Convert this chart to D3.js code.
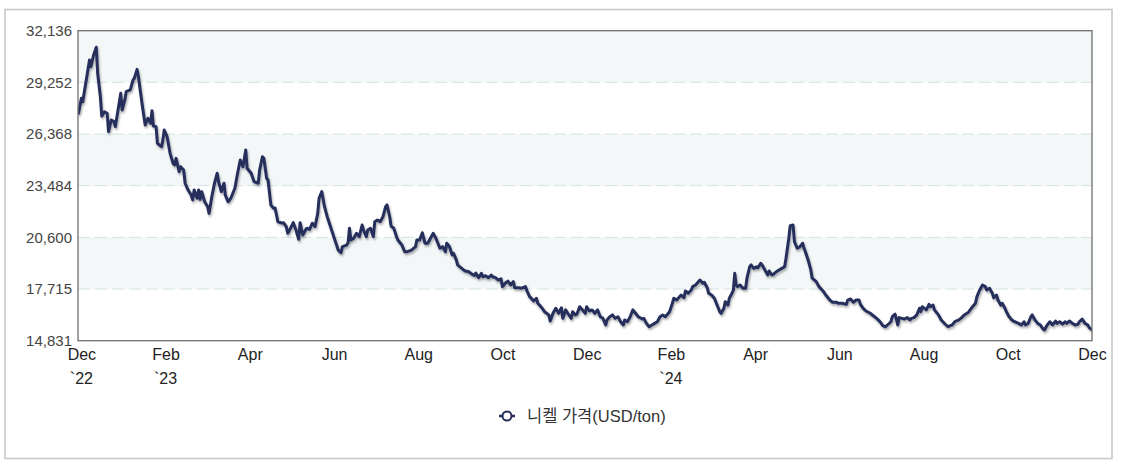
<!DOCTYPE html>
<html><head><meta charset="utf-8">
<script src="https://cdn.jsdelivr.net/npm/d3@7"></script>
<style>html,body{margin:0;padding:0;background:#fff}</style>
</head><body>
<svg id="chart" width="1122" height="468"></svg>
<script>
const dates = [
"2022-11-29","2022-12-01","2022-12-02","2022-12-05","2022-12-07","2022-12-08","2022-12-10","2022-12-12","2022-12-13","2022-12-15","2022-12-16","2022-12-18","2022-12-20","2022-12-21","2022-12-23","2022-12-25","2022-12-26","2022-12-28","2022-12-30","2022-12-31",
"2023-01-02","2023-01-03","2023-01-06","2023-01-08","2023-01-09","2023-01-11","2023-01-12","2023-01-13","2023-01-15","2023-01-17","2023-01-19","2023-01-21","2023-01-22","2023-01-23","2023-01-25","2023-01-26","2023-01-29","2023-01-30","2023-01-31",
"2023-02-02","2023-02-04","2023-02-06","2023-02-07","2023-02-08","2023-02-10","2023-02-11","2023-02-13","2023-02-14","2023-02-16","2023-02-18","2023-02-19","2023-02-20","2023-02-22","2023-02-23","2023-02-24","2023-02-25","2023-02-27",
"2023-03-01","2023-03-02","2023-03-04","2023-03-06","2023-03-08","2023-03-09","2023-03-11","2023-03-13","2023-03-14","2023-03-16","2023-03-18","2023-03-21","2023-03-23","2023-03-25","2023-03-27","2023-03-29","2023-03-30",
"2023-04-02","2023-04-04","2023-04-07","2023-04-08","2023-04-10","2023-04-11","2023-04-13","2023-04-14","2023-04-16","2023-04-18","2023-04-19","2023-04-21","2023-04-24","2023-04-25","2023-04-27","2023-04-28","2023-04-30",
"2023-05-02","2023-05-04","2023-05-06","2023-05-07","2023-05-09","2023-05-11","2023-05-12","2023-05-14","2023-05-16","2023-05-18","2023-05-20","2023-05-21","2023-05-23","2023-05-25","2023-05-27","2023-05-29","2023-05-31",
"2023-06-02","2023-06-04","2023-06-06","2023-06-07","2023-06-10","2023-06-11","2023-06-12","2023-06-13","2023-06-15","2023-06-17","2023-06-19","2023-06-21","2023-06-22","2023-06-24","2023-06-25","2023-06-27","2023-06-29","2023-06-30",
"2023-07-02","2023-07-04","2023-07-06","2023-07-08","2023-07-09","2023-07-11","2023-07-12","2023-07-14","2023-07-16","2023-07-17","2023-07-20","2023-07-22","2023-07-24","2023-07-27","2023-07-30","2023-07-31",
"2023-08-02","2023-08-04","2023-08-05","2023-08-06","2023-08-08","2023-08-10","2023-08-12","2023-08-14","2023-08-16","2023-08-17","2023-08-19","2023-08-21","2023-08-22","2023-08-24","2023-08-26","2023-08-27","2023-08-29","2023-08-30",
"2023-09-02","2023-09-04","2023-09-07","2023-09-09","2023-09-11","2023-09-12","2023-09-14","2023-09-16","2023-09-17","2023-09-19","2023-09-21","2023-09-23","2023-09-24","2023-09-26","2023-09-28","2023-09-30",
"2023-10-01","2023-10-03","2023-10-05","2023-10-07","2023-10-09","2023-10-10","2023-10-13","2023-10-15","2023-10-18","2023-10-19","2023-10-21","2023-10-24","2023-10-26","2023-10-27","2023-10-30",
"2023-11-01","2023-11-04","2023-11-05","2023-11-07","2023-11-09","2023-11-11","2023-11-13","2023-11-14","2023-11-16","2023-11-18","2023-11-20","2023-11-21","2023-11-23","2023-11-24","2023-11-26","2023-11-28","2023-11-30",
"2023-12-01","2023-12-03","2023-12-05","2023-12-07","2023-12-09","2023-12-11","2023-12-13","2023-12-15","2023-12-16","2023-12-18","2023-12-20","2023-12-22","2023-12-24","2023-12-26","2023-12-28","2023-12-29","2023-12-31",
"2024-01-02","2024-01-04","2024-01-06","2024-01-08","2024-01-11","2024-01-12","2024-01-14","2024-01-16","2024-01-18","2024-01-20","2024-01-22","2024-01-24","2024-01-26","2024-01-28","2024-01-29","2024-01-31",
"2024-02-02","2024-02-03","2024-02-05","2024-02-07","2024-02-08","2024-02-10","2024-02-11","2024-02-13","2024-02-15","2024-02-16","2024-02-18","2024-02-20","2024-02-21","2024-02-23","2024-02-24","2024-02-26","2024-02-27","2024-02-29",
"2024-03-02","2024-03-04","2024-03-06","2024-03-07","2024-03-09","2024-03-10","2024-03-12","2024-03-13","2024-03-15","2024-03-16","2024-03-17","2024-03-18","2024-03-19","2024-03-21","2024-03-23","2024-03-25","2024-03-26","2024-03-28","2024-03-29","2024-03-31",
"2024-04-02","2024-04-03","2024-04-05","2024-04-06","2024-04-08","2024-04-10","2024-04-11","2024-04-13","2024-04-14","2024-04-16","2024-04-18","2024-04-20","2024-04-22","2024-04-23","2024-04-25","2024-04-26","2024-04-28","2024-04-29",
"2024-05-01","2024-05-03","2024-05-05","2024-05-06","2024-05-07","2024-05-09","2024-05-11","2024-05-12","2024-05-15","2024-05-17","2024-05-20","2024-05-22","2024-05-25","2024-05-27","2024-05-30","2024-05-31",
"2024-06-03","2024-06-06","2024-06-07","2024-06-09","2024-06-11","2024-06-13","2024-06-15","2024-06-16","2024-06-18","2024-06-20","2024-06-23","2024-06-25","2024-06-28","2024-06-30",
"2024-07-02","2024-07-04","2024-07-06","2024-07-08","2024-07-09","2024-07-11","2024-07-13","2024-07-14","2024-07-16","2024-07-18","2024-07-20","2024-07-22","2024-07-23","2024-07-25","2024-07-27","2024-07-29","2024-07-30","2024-07-31",
"2024-08-03","2024-08-05","2024-08-06","2024-08-08","2024-08-09","2024-08-12","2024-08-14","2024-08-17","2024-08-19","2024-08-22","2024-08-24","2024-08-27","2024-08-29","2024-08-31",
"2024-09-03","2024-09-05","2024-09-08","2024-09-09","2024-09-11","2024-09-13","2024-09-15","2024-09-16","2024-09-18","2024-09-20","2024-09-21","2024-09-23","2024-09-24","2024-09-26","2024-09-27","2024-09-29","2024-09-30",
"2024-10-02","2024-10-04","2024-10-06","2024-10-09","2024-10-11","2024-10-13","2024-10-14","2024-10-16","2024-10-18","2024-10-19","2024-10-21","2024-10-23","2024-10-25","2024-10-27","2024-10-28","2024-10-30",
"2024-11-01","2024-11-03","2024-11-05","2024-11-06","2024-11-08","2024-11-10","2024-11-12","2024-11-13","2024-11-15","2024-11-17","2024-11-19","2024-11-21","2024-11-22","2024-11-24","2024-11-26","2024-11-28","2024-11-29",
"2024-12-01"
];
const prices = [
27530,28360,28170,29570,30500,30130,30780,31210,29760,28450,27370,27610,27530,26500,27150,27060,26780,27710,28640,27710,
28270,28730,28830,29380,29480,29980,29570,29010,27890,26870,27250,26970,27670,26820,26780,25850,25660,26030,26590,
26220,25290,24730,24640,25010,24270,24540,24360,23620,23240,22960,22690,23240,22780,23240,22720,23150,22590,
22310,21940,22870,23620,24180,23710,23150,23620,22960,22590,22780,23340,24180,24920,24540,25480,24460,
24180,23710,23620,24360,25100,25010,23900,23800,22410,22220,22240,21470,21390,21420,21200,20830,21110,
21420,21010,20490,21420,20730,21010,21110,21050,21390,21200,21940,22780,23150,22310,21750,21290,20830,
20360,19890,19740,20080,20170,20300,21110,20450,20550,20830,20640,21290,21010,20640,21010,21110,20640,21470,
21570,21470,21750,22310,22410,21750,21230,21110,20640,20450,20170,19800,19800,19890,20080,20450,
20450,20860,20550,20270,20270,20550,20830,20550,20170,19990,20080,19800,20270,20080,19620,19710,19340,19060,
18870,18740,18680,18560,18470,18610,18350,18590,18400,18460,18350,18500,18400,18350,18220,18280,
17850,18040,18160,17940,18130,17790,17790,17760,17850,17610,17290,17050,17200,16920,16670,
16450,16270,15930,16360,16640,16360,16670,16080,16550,16310,16080,16450,16270,16310,16730,16550,16360,
16730,16490,16550,16360,16550,16170,16080,15710,15990,16170,16270,16080,16170,15890,15710,15990,15890,
16170,16550,16360,16170,16040,16080,15800,15610,15710,15800,15890,16170,16270,16170,16270,16450,
16920,17200,17100,17290,17380,17230,17610,17480,17660,17850,17940,18130,18220,18040,18090,17790,17480,17380,
17200,16820,16450,16360,16640,17010,16820,17200,17480,17660,18590,17940,17850,17940,17760,17760,18320,18960,19060,18870,
18960,18910,19150,19060,18780,18500,18720,18500,18540,18680,18780,18870,18960,19430,20550,21250,21290,20360,
19990,20080,20270,19990,19800,19340,18780,18320,18130,17850,17610,17380,17100,16980,16980,16920,
16920,16860,17100,17160,16980,17100,17100,16860,16640,16490,16360,16240,16050,15890,
15670,15610,15750,15890,16170,16310,15710,16120,16080,16040,16120,15990,16080,16120,16270,16640,16450,16730,
16550,16860,16730,16820,16550,16270,15990,15750,15610,15710,15890,15990,16120,16270,
16420,16640,16920,17290,17660,17940,17850,17660,17760,17480,17230,17380,17100,16820,16920,16640,16450,
16170,15990,15890,15800,15710,15890,15710,15800,16170,16270,15990,15800,15710,15480,15430,15710,
15890,15710,15930,15800,15890,15750,15890,15800,15930,15800,15710,15750,15890,16040,15800,15710,15560,
15430
];
const yTicks = [14831, 17715, 20600, 23484, 26368, 29252, 32136];
const xTickMonths = ["Dec","Feb","Apr","Jun","Aug","Oct","Dec","Feb","Apr","Jun","Aug","Oct","Dec"];
const xTickYears  = ["`22","`23","","","","","","`24","","","","",""];
const seriesName = "니켈 가격(USD/ton)";

// month index relative to Dec 2022 (0 = Dec 1 2022)
function monthIndex(s){
  const [y,m,d] = s.split("-").map(Number);
  const dim = new Date(y, m, 0).getDate();
  return (y - 2022) * 12 + (m - 12) + (d - 1) / dim;
}
const data = dates.map((d,i)=>({m: monthIndex(d), v: prices[i]}));

const svg = d3.select("#chart");
const L = 78, R = 1092, T = 30.7, B = 340.7;
const x = d3.scaleLinear().domain([-0.08, 24]).range([L, R]);
const y = d3.scaleLinear().domain([yTicks[0], yTicks[yTicks.length-1]]).range([B, T]);
const FONT = "'Liberation Sans', Arial, 'Noto Sans CJK KR', sans-serif";

// outer frame
svg.append("rect").attr("x",5).attr("y",9.5).attr("width",1107).attr("height",449)
  .attr("fill","#fff").attr("stroke","#c9c9c9").attr("stroke-width",1.6);

// bands
const bands = d3.range(yTicks.length-1).filter(i => i % 2 === 1);
svg.append("g").selectAll("rect").data(bands).join("rect")
  .attr("x", L).attr("width", R - L)
  .attr("y", i => y(yTicks[i+1])).attr("height", i => y(yTicks[i]) - y(yTicks[i+1]))
  .attr("fill", "#f3f7f8");

// gridlines
svg.append("g").selectAll("line").data(yTicks.slice(1, -1)).join("line")
  .attr("x1", L).attr("x2", R).attr("y1", d => y(d)).attr("y2", d => y(d))
  .attr("stroke", "#d5e1e5").attr("stroke-width", 1).attr("stroke-dasharray", "12,5");

// line with shadow
const defs = svg.append("defs");
const f = defs.append("filter").attr("id","sh").attr("x","-5%").attr("y","-5%").attr("width","110%").attr("height","120%");
f.append("feDropShadow").attr("dx",1).attr("dy",2).attr("stdDeviation",1.3)
  .attr("flood-color","#000").attr("flood-opacity",0.32);
defs.append("clipPath").attr("id","clip").append("rect")
  .attr("x", L).attr("y", T - 5).attr("width", R - L).attr("height", B - T + 5);

svg.append("path").datum(data)
  .attr("clip-path","url(#clip)")
  .attr("filter","url(#sh)")
  .attr("fill","none").attr("stroke","#262f5c").attr("stroke-width",3)
  .attr("stroke-linejoin","round").attr("stroke-linecap","round")
  .attr("d", d3.line().x(d => x(d.m)).y(d => y(d.v)));

// plot border
svg.append("rect").attr("x", L).attr("y", T).attr("width", R - L).attr("height", B - T)
  .attr("fill","none").attr("stroke","#6f6f6f").attr("stroke-width",1.3);

// y axis
const yAxis = svg.append("g").attr("transform", `translate(${L},0)`)
  .call(d3.axisLeft(y).tickValues(yTicks).tickSize(0).tickPadding(6).tickFormat(d3.format(",")));
yAxis.select(".domain").remove();
yAxis.selectAll("text").attr("font-family", FONT).attr("font-size", 15).attr("fill", "#444");

// x axis
const xVals = d3.range(0, 25, 2);
const xAxis = svg.append("g").attr("transform", `translate(0,${B})`)
  .call(d3.axisBottom(x).tickValues(xVals).tickSize(0).tickPadding(8).tickFormat((d,i) => xTickMonths[i]));
xAxis.select(".domain").remove();
xAxis.selectAll("text").attr("font-family", FONT).attr("font-size", 16).attr("fill", "#222");
svg.append("g").selectAll("text").data(xVals).join("text")
  .attr("x", d => x(d)).attr("y", 384).attr("text-anchor","middle")
  .attr("font-family", FONT).attr("font-size", 16).attr("fill", "#222")
  .text((d,i) => xTickYears[i]);

// legend
const lg = svg.append("g").attr("transform","translate(507,416)");
lg.append("line").attr("x1",-8).attr("x2",8).attr("stroke","#262f5c").attr("stroke-width",2.5);
lg.append("circle").attr("r",4.5).attr("fill","#fff").attr("stroke","#262f5c").attr("stroke-width",2);
lg.append("text").attr("x",20).attr("y",0).attr("dy","0.35em")
  .attr("font-family", FONT).attr("font-size", 16.5).attr("fill","#333").text(seriesName);
</script>
</body></html>
